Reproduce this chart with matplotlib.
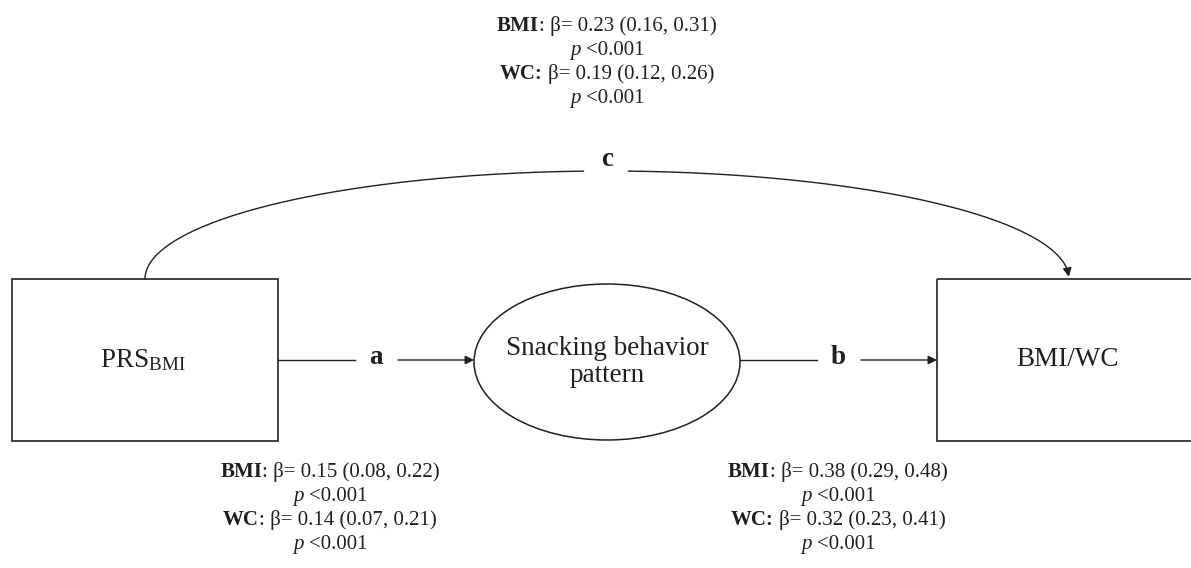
import numpy as np
import matplotlib.pyplot as plt
from matplotlib.patches import Rectangle, Ellipse

plt.rcParams['font.family'] = ['Liberation Serif', 'DejaVu Serif']
plt.rcParams['mathtext.fontset'] = 'custom'
plt.rcParams['mathtext.rm'] = 'Liberation Serif'
plt.rcParams['mathtext.it'] = 'Liberation Serif:italic'
plt.rcParams['mathtext.bf'] = 'Liberation Serif:bold'

# path estimates (a: PRS -> snacking, b: snacking -> BMI/WC, c: PRS -> BMI/WC)
paths = ['a', 'b', 'c']
bmi_beta = [0.15, 0.38, 0.23]
bmi_low = [0.08, 0.29, 0.16]
bmi_high = [0.22, 0.48, 0.31]
wc_beta = [0.14, 0.32, 0.19]
wc_low = [0.07, 0.23, 0.12]
wc_high = [0.21, 0.41, 0.26]
p_vals = ['<0.001', '<0.001', '<0.001']
wc_colon_bold = [False, True, True]

box_labels = ['PRS$_{\\mathrm{BMI}}$', 'Snacking behavior\npattern', 'BMI/WC']

ink = '#231f20'
fs = 15      # annotation text
fb = 19.5    # box labels and path letters

fig = plt.figure(figsize=(11.91, 5.68), dpi=100)
ax = fig.add_axes([0, 0, 1, 1])
ax.set_xlim(0, 1191)
ax.set_ylim(568, 0)
ax.axis('off')
rend = fig.canvas.get_renderer()


def rich_line(xc, yb, segs):
    # segs: list of (text, style); style in normal/bold/italic/gap
    items = []
    x = 0
    for s, st in segs:
        if st == 'gap':
            x += 0.25 * fs * 100 / 72
            continue
        t = ax.text(x, yb, s, fontsize=fs, color=ink, va='baseline', ha='left',
                    fontweight='bold' if st == 'bold' else 'normal',
                    fontstyle='italic' if st == 'italic' else 'normal')
        items.append((t, x))
        x += t.get_window_extent(rend).width
    for t, x0 in items:
        t.set_x(xc - x / 2 + x0)


def stats_block(i, xc, y0, step=24):
    ci_b = f"β= {bmi_beta[i]:.2f} ({bmi_low[i]:.2f}, {bmi_high[i]:.2f})"
    ci_w = f"β= {wc_beta[i]:.2f} ({wc_low[i]:.2f}, {wc_high[i]:.2f})"
    rich_line(xc, y0, [('BMI', 'bold'), (': ' + ci_b, 'normal')])
    rich_line(xc, y0 + step, [('p', 'italic'), ('', 'gap'), (p_vals[i], 'normal')])
    if wc_colon_bold[i]:
        rich_line(xc, y0 + 2 * step, [('WC:', 'bold'), ('', 'gap'), (ci_w, 'normal')])
    else:
        rich_line(xc, y0 + 2 * step, [('WC', 'bold'), (': ' + ci_w, 'normal')])
    rich_line(xc, y0 + 3 * step, [('p', 'italic'), ('', 'gap'), (p_vals[i], 'normal')])


# boxes
ax.add_patch(Rectangle((12, 279), 266, 162, fill=False, ec='#333333', lw=1.3))
ax.add_patch(Rectangle((937, 279), 300, 162, fill=False, ec='#333333', lw=1.3))
ax.add_patch(Ellipse((607, 362), 266, 156, fill=False, ec=ink, lw=1.1))

ax.text(143, 367, box_labels[0], fontsize=fb, color=ink, ha='center', va='baseline')
ax.text(607, 362, box_labels[1], fontsize=fb, color=ink, ha='center', va='center',
        linespacing=1.15)
ax.text(1068, 360, box_labels[2], fontsize=fb, color=ink, ha='center', va='center')

arrow = dict(arrowstyle='-|>', color=ink, lw=1.0, mutation_scale=13, shrinkA=0, shrinkB=0)

# path a
ax.plot([278, 355], [360, 360], color=ink, lw=1.0)
ax.text(376, 358, paths[0], fontsize=fb, fontweight='bold', color=ink, ha='center', va='center')
ax.annotate('', xy=(474, 360), xytext=(398, 360), arrowprops=arrow)

# path b
ax.plot([740, 817], [360, 360], color=ink, lw=1.0)
ax.text(838, 358, paths[1], fontsize=fb, fontweight='bold', color=ink, ha='center', va='center')
ax.annotate('', xy=(937, 360), xytext=(861, 360), arrowprops=arrow)

# path c: arc over the top
cx, cy, ra, rb = 607, 279, 462, 108
th = np.linspace(np.pi, 0.02, 800)
xs = cx + ra * np.cos(th)
ys = cy - rb * np.sin(th)
left = xs < cx - 22
right = xs > cx + 21
ax.plot(xs[left], ys[left], color=ink, lw=1.0)
ax.plot(xs[right][:-12], ys[right][:-12], color=ink, lw=1.0)
ax.annotate('', xy=(xs[-1], ys[-1]), xytext=(xs[-14], ys[-14]), arrowprops=arrow)
ax.text(cx, 160, paths[2], fontsize=fb, fontweight='bold', color=ink, ha='center', va='center')

stats_block(2, 607, 31)
stats_block(0, 330, 477)
stats_block(1, 838, 477)

fig.savefig('out.png', dpi=100)
